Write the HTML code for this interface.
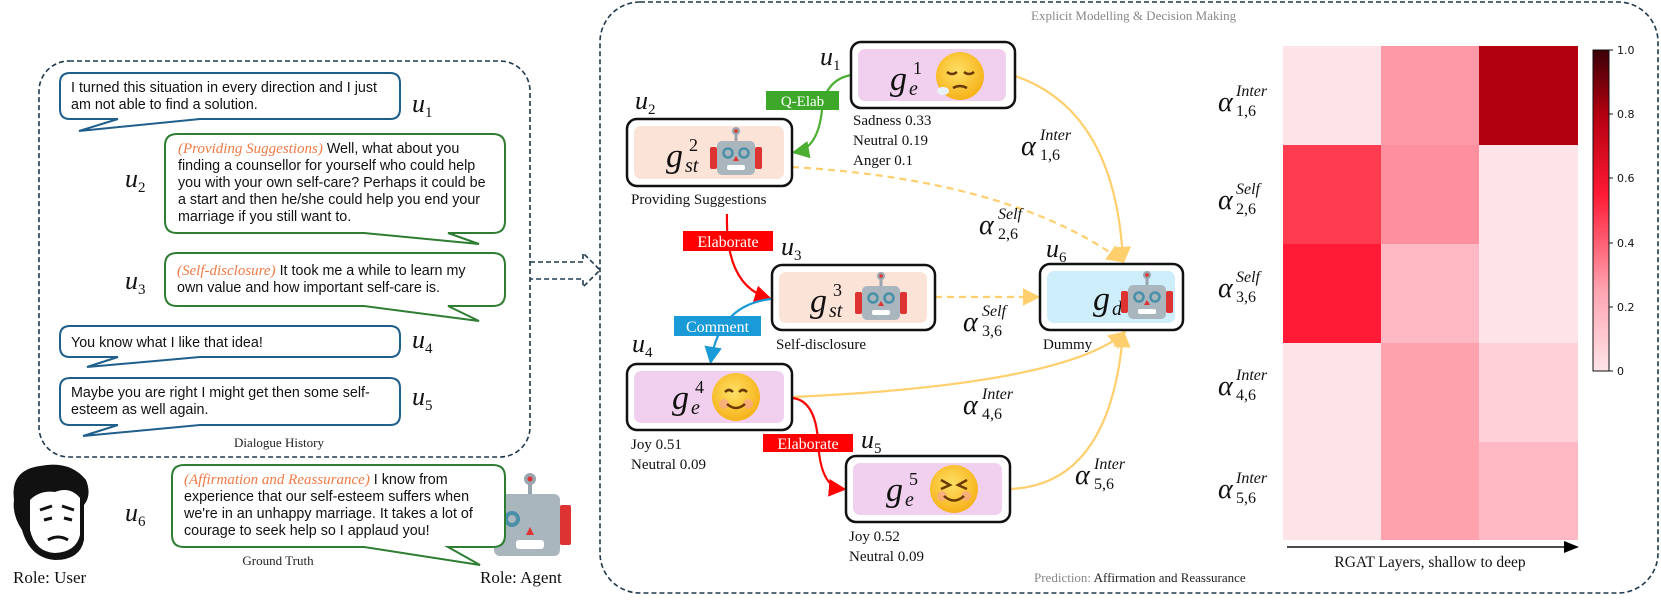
<!DOCTYPE html>
<html><head><meta charset="utf-8"><style>html,body{margin:0;padding:0;background:#fff}svg{display:block}</style></head>
<body>
<svg width="1661" height="600" viewBox="0 0 1661 600" xmlns="http://www.w3.org/2000/svg" font-family="'Liberation Serif',serif">
<defs>
<linearGradient id="cb" x1="0" y1="1" x2="0" y2="0">
<stop offset="0" stop-color="#fde4e8"/><stop offset="0.25" stop-color="#fea5b2"/><stop offset="0.55" stop-color="#ff1a35"/><stop offset="0.8" stop-color="#b3000f"/><stop offset="1" stop-color="#3b0008"/>
</linearGradient>
<radialGradient id="em" cx="0.45" cy="0.4" r="0.6"><stop offset="0" stop-color="#ffe066"/><stop offset="1" stop-color="#f6b21a"/></radialGradient>
<marker id="ay" markerWidth="8" markerHeight="8" refX="6" refY="4" orient="auto"><path d="M0,0 L8,4 L0,8 Z" fill="#ffcf6e"/></marker>
<marker id="ag" markerWidth="8" markerHeight="8" refX="6" refY="4" orient="auto"><path d="M0,0 L8,4 L0,8 Z" fill="#4caf32"/></marker>
<marker id="ar" markerWidth="8" markerHeight="8" refX="6" refY="4" orient="auto"><path d="M0,0 L8,4 L0,8 Z" fill="#f00"/></marker>
<marker id="ab" markerWidth="8" markerHeight="8" refX="6" refY="4" orient="auto"><path d="M0,0 L8,4 L0,8 Z" fill="#1a9ad6"/></marker>
<marker id="ak" markerWidth="10" markerHeight="8" refX="8" refY="4" orient="auto"><path d="M0,0 L10,4 L0,8 Z" fill="#000"/></marker>
<g id="robot">
<line x1="0" y1="-22" x2="0" y2="-14" stroke="#9aa6ad" stroke-width="3"/><circle cx="0" cy="-24" r="4" fill="#9aa6ad"/><circle cx="0" cy="-24" r="1.8" fill="#d33"/>
<rect x="-19" y="-14" width="38" height="34" rx="5" fill="#a9b6bd"/>
<rect x="-26" y="-8" width="7" height="22" rx="2" fill="#d33"/><rect x="19" y="-8" width="7" height="22" rx="2" fill="#d33"/>
<circle cx="-8" cy="-2" r="4.5" fill="none" stroke="#4a8fa8" stroke-width="2.5"/><circle cx="8" cy="-2" r="4.5" fill="none" stroke="#4a8fa8" stroke-width="2.5"/>
<path d="M-3,6 L0,1 L3,6 Z" fill="#d33"/><rect x="-9" y="10" width="18" height="5" rx="2" fill="#fff"/>
</g>
</defs>

<rect x="39" y="61" width="491" height="396" rx="30" fill="none" stroke="#1f3a4d" stroke-width="1.6" stroke-dasharray="5,3"/>

<g fill="#fff" stroke-width="2">
<path stroke="#1f5f8b" d="M70,73 H390 Q400,73 400,83 V109 Q400,119 390,119 H200 L79,131 L118,119 H70 Q60,119 60,109 V83 Q60,73 70,73 Z"/>
<path stroke="#2e7d32" d="M177,134 H493 Q505,134 505,146 V221 Q505,233 493,233 H448 L479,244 L364,233 H177 Q165,233 165,221 V146 Q165,134 177,134 Z"/>
<path stroke="#2e7d32" d="M177,253 H493 Q505,253 505,265 V294 Q505,306 493,306 H448 L479,321 L364,306 H177 Q165,306 165,294 V265 Q165,253 177,253 Z"/>
<path stroke="#1f5f8b" d="M70,326 H390 Q400,326 400,336 V347 Q400,357 390,357 H200 L87,367 L118,357 H70 Q60,357 60,347 V336 Q60,326 70,326 Z"/>
<path stroke="#1f5f8b" d="M70,378 H390 Q400,378 400,388 V415 Q400,425 390,425 H200 L83,436 L118,425 H70 Q60,425 60,415 V388 Q60,378 70,378 Z"/>
</g>

<g font-family="'Liberation Sans',sans-serif" font-size="14.3" fill="#111">
<text x="71" y="92">I turned this situation in every direction and I just</text>
<text x="71" y="109">am not able to find a solution.</text>
<text x="178" y="153"><tspan font-family="'Liberation Serif',serif" font-style="italic" fill="#f07a45" font-size="15">(Providing Suggestions)</tspan> Well, what about you</text>
<text x="178" y="170">finding a counsellor for yourself who could help</text>
<text x="178" y="187">you with your own self-care? Perhaps it could be</text>
<text x="178" y="204">a start and then he/she could help you end your</text>
<text x="178" y="221">marriage if you still want to.</text>
<text x="177" y="275"><tspan font-family="'Liberation Serif',serif" font-style="italic" fill="#f07a45" font-size="15">(Self-disclosure)</tspan> It took me a while to learn my</text>
<text x="177" y="292">own value and how important self-care is.</text>
<text x="71" y="347">You know what I like that idea!</text>
<text x="71" y="397">Maybe you are right I might get then some self-</text>
<text x="71" y="414">esteem as well again.</text>
</g>

<g font-style="italic" font-size="26" fill="#111">
<text x="412" y="112">u<tspan font-size="15" font-style="normal" dy="5">1</tspan></text>
<text x="125" y="187">u<tspan font-size="15" font-style="normal" dy="5">2</tspan></text>
<text x="125" y="289">u<tspan font-size="15" font-style="normal" dy="5">3</tspan></text>
<text x="412" y="348">u<tspan font-size="15" font-style="normal" dy="5">4</tspan></text>
<text x="412" y="405">u<tspan font-size="15" font-style="normal" dy="5">5</tspan></text>
<text x="125" y="521">u<tspan font-size="15" font-style="normal" dy="5">6</tspan></text>
</g>
<text x="279" y="447" font-size="13" text-anchor="middle" fill="#222">Dialogue History</text>

<g fill="none" stroke="#1f3a4d" stroke-width="1.6" stroke-dasharray="5,3">
<path d="M530,262 H583 V253 L600,270 L583,287 V279 H530"/>
</g>

<g>
<path d="M14,500 Q10,470 40,466 Q70,460 86,480 Q92,495 84,505 L84,540 Q80,560 55,560 Q30,558 22,530 Q12,515 14,500 Z" fill="#111"/>
<path d="M30,500 Q40,490 55,492 Q70,486 80,498 L80,535 Q76,552 55,553 Q35,552 30,530 Z" fill="#fff"/>
<path d="M40,510 L52,506 M62,506 L74,510" stroke="#111" stroke-width="3" fill="none"/>
<path d="M44,520 L52,518 M64,518 L72,520" stroke="#111" stroke-width="3"/>
<path d="M48,540 Q58,534 68,540" stroke="#111" stroke-width="3" fill="none"/>
</g>
<text x="13" y="583" font-size="17" fill="#111">Role: User</text>

<g transform="translate(530,475)">
<line x1="0" y1="4" x2="0" y2="20" stroke="#9aa6ad" stroke-width="4"/><circle cx="0" cy="4" r="6" fill="#9aa6ad"/><circle cx="0" cy="4" r="2.5" fill="#d33"/>
<rect x="-36" y="19" width="66" height="62" rx="6" fill="#a9b6bd"/>
<rect x="30" y="30" width="11" height="40" rx="2" fill="#d33"/>
<circle cx="-18" cy="44" r="6" fill="none" stroke="#4a8fa8" stroke-width="4"/>
<path d="M-4,60 L0,52 L4,60 Z" fill="#d33"/><rect x="-14" y="65" width="28" height="9" rx="3" fill="#fff"/>
</g>
<path fill="#fff" stroke="#2e7d32" stroke-width="2" d="M184,465 H493 Q505,465 505,477 V535 Q505,547 493,547 H448 L480,565 L364,547 H184 Q172,547 172,535 V477 Q172,465 184,465 Z"/>
<g font-family="'Liberation Sans',sans-serif" font-size="14.3" fill="#111">
<text x="184" y="484"><tspan font-family="'Liberation Serif',serif" font-style="italic" fill="#f07a45" font-size="15">(Affirmation and Reassurance)</tspan> I know from</text>
<text x="184" y="501">experience that our self-esteem suffers when</text>
<text x="184" y="518">we're in an unhappy marriage. It takes a lot of</text>
<text x="184" y="535">courage to seek help so I applaud you!</text>
</g>
<text x="278" y="565" font-size="13" text-anchor="middle" fill="#222">Ground Truth</text>
<text x="480" y="583" font-size="17" fill="#111">Role: Agent</text>

<rect x="600" y="2" width="1058" height="591" rx="40" fill="none" stroke="#1f3a4d" stroke-width="1.6" stroke-dasharray="5,3"/>
<text x="1031" y="20" font-size="13" fill="#888">Explicit Modelling &amp; Decision Making</text>
<text x="1034" y="582" font-size="13" fill="#888">Prediction: <tspan fill="#222">Affirmation and Reassurance</tspan></text>

<g fill="none" stroke-width="2.2">
<path d="M1015,76 Q1115,110 1123,260" stroke="#ffcf6e" marker-end="url(#ay)"/>
<path d="M792,167 Q1010,180 1121,260" stroke="#ffcf6e" stroke-dasharray="7,5" marker-end="url(#ay)"/>
<path d="M935,297 H1036" stroke="#ffcf6e" stroke-dasharray="7,5" marker-end="url(#ay)"/>
<path d="M792,397 Q1060,385 1123,334" stroke="#ffcf6e" marker-end="url(#ay)"/>
<path d="M1010,489 Q1110,485 1123,334" stroke="#ffcf6e" marker-end="url(#ay)"/>
<path d="M851,75 Q825,80 822,110 Q818,148 796,152" stroke="#4caf32" marker-end="url(#ag)"/>
<path d="M727,214 Q725,285 768,298" stroke="#f00" marker-end="url(#ar)"/>
<path d="M771,299 Q720,305 711,360" stroke="#1a9ad6" marker-end="url(#ab)"/>
<path d="M792,398 Q815,400 818,440 Q820,487 842,489" stroke="#f00" marker-end="url(#ar)"/>
</g>

<rect x="766" y="91" width="73" height="19" fill="#3ea82a"/><text x="802.5" y="106" font-size="15" fill="#fff" text-anchor="middle">Q-Elab</text>
<rect x="683" y="231" width="90" height="20" fill="#f00"/><text x="728" y="247" font-size="16" fill="#fff" text-anchor="middle">Elaborate</text>
<rect x="674" y="316" width="87" height="20" fill="#1a9ad6"/><text x="717.5" y="332" font-size="16" fill="#fff" text-anchor="middle">Comment</text>
<rect x="763" y="434" width="90" height="18" fill="#f00"/><text x="808" y="449" font-size="16" fill="#fff" text-anchor="middle">Elaborate</text>

<g stroke="#111" stroke-width="2.5" fill="#fff">
<rect x="851" y="42" width="164" height="66" rx="10"/>
<rect x="627" y="119" width="165" height="67" rx="10"/>
<rect x="772" y="265" width="163" height="65" rx="10"/>
<rect x="627" y="364" width="165" height="66" rx="10"/>
<rect x="846" y="456" width="164" height="66" rx="10"/>
<rect x="1040" y="264" width="143" height="66" rx="10"/>
</g>
<rect x="858" y="49" width="148" height="52" rx="7" fill="#f0d0ee"/>
<rect x="634" y="126" width="150" height="53" rx="7" fill="#fbe3d8"/>
<rect x="779" y="272" width="148" height="51" rx="7" fill="#fbe3d8"/>
<rect x="634" y="371" width="150" height="52" rx="7" fill="#f0d0ee"/>
<rect x="853" y="463" width="149" height="52" rx="7" fill="#f0d0ee"/>
<rect x="1047" y="271" width="128" height="52" rx="7" fill="#cdeefa"/>

<g font-style="italic" fill="#111">
<text x="890" y="90" font-size="34">g</text><text x="913" y="74" font-size="18" font-style="normal">1</text><text x="909" y="95" font-size="20">e</text>
<text x="666" y="167" font-size="34">g</text><text x="689" y="151" font-size="18" font-style="normal">2</text><text x="685" y="172" font-size="20">st</text>
<text x="810" y="312" font-size="34">g</text><text x="833" y="296" font-size="18" font-style="normal">3</text><text x="829" y="317" font-size="20">st</text>
<text x="672" y="409" font-size="34">g</text><text x="695" y="393" font-size="18" font-style="normal">4</text><text x="691" y="414" font-size="20">e</text>
<text x="886" y="501" font-size="34">g</text><text x="909" y="485" font-size="18" font-style="normal">5</text><text x="905" y="506" font-size="20">e</text>
<text x="1093" y="310" font-size="34">g</text><text x="1112" y="315" font-size="20">d</text>
</g>

<g>
<circle cx="960" cy="76" r="24" fill="url(#em)"/>
<path d="M947,72 Q952,76 957,72 M964,72 Q969,76 974,72" stroke="#6b3a00" stroke-width="2.5" fill="none"/>
<path d="M953,88 Q960,84 967,88" stroke="#6b3a00" stroke-width="2.5" fill="none"/>
<ellipse cx="943" cy="91" rx="6" ry="4" fill="#e8f2f8"/>
<circle cx="736" cy="397" r="24" fill="url(#em)"/>
<circle cx="724" cy="404" r="5" fill="#f8a0a0" opacity="0.6"/><circle cx="748" cy="404" r="5" fill="#f8a0a0" opacity="0.6"/>
<path d="M725,392 Q729,388 733,392 M739,392 Q743,388 747,392" stroke="#6b3a00" stroke-width="2.5" fill="none"/>
<path d="M727,404 Q736,412 745,404" stroke="#6b3a00" stroke-width="2.5" fill="none"/>
<circle cx="954" cy="489" r="24" fill="url(#em)"/>
<circle cx="942" cy="496" r="5" fill="#f8a0a0" opacity="0.6"/><circle cx="966" cy="496" r="5" fill="#f8a0a0" opacity="0.6"/>
<path d="M941,480 L950,485 L941,489 M967,480 L958,485 L967,489" stroke="#6b3a00" stroke-width="2.5" fill="none"/>
<path d="M944,496 Q954,505 964,496" stroke="#6b3a00" stroke-width="2.5" fill="none"/>
</g>
<use href="#robot" x="736" y="155"/>
<use href="#robot" x="881" y="300"/>
<use href="#robot" x="1147" y="299"/>

<g font-size="15" fill="#111">
<text x="853" y="125">Sadness 0.33</text><text x="853" y="145">Neutral 0.19</text><text x="853" y="165">Anger 0.1</text>
<text x="631" y="204">Providing Suggestions</text>
<text x="776" y="349">Self-disclosure</text>
<text x="1043" y="349">Dummy</text>
<text x="631" y="449">Joy 0.51</text><text x="631" y="469">Neutral 0.09</text>
<text x="849" y="541">Joy 0.52</text><text x="849" y="561">Neutral 0.09</text>
</g>
<g font-style="italic" font-size="26" fill="#111">
<text x="820" y="65">u<tspan font-size="15" font-style="normal" dy="5">1</tspan></text>
<text x="635" y="109">u<tspan font-size="15" font-style="normal" dy="5">2</tspan></text>
<text x="781" y="255">u<tspan font-size="15" font-style="normal" dy="5">3</tspan></text>
<text x="632" y="352">u<tspan font-size="15" font-style="normal" dy="5">4</tspan></text>
<text x="861" y="448">u<tspan font-size="15" font-style="normal" dy="5">5</tspan></text>
<text x="1046" y="257">u<tspan font-size="15" font-style="normal" dy="5">6</tspan></text>
</g>

<g font-style="italic" fill="#111">
<text x="1021" y="155" font-size="28">α</text><text x="1040" y="140" font-size="16">Inter</text><text x="1040" y="160" font-size="16" font-style="normal">1,6</text>
<text x="979" y="234" font-size="28">α</text><text x="998" y="219" font-size="16">Self</text><text x="998" y="239" font-size="16" font-style="normal">2,6</text>
<text x="963" y="331" font-size="28">α</text><text x="982" y="316" font-size="16">Self</text><text x="982" y="336" font-size="16" font-style="normal">3,6</text>
<text x="963" y="414" font-size="28">α</text><text x="982" y="399" font-size="16">Inter</text><text x="982" y="419" font-size="16" font-style="normal">4,6</text>
<text x="1075" y="484" font-size="28">α</text><text x="1094" y="469" font-size="16">Inter</text><text x="1094" y="489" font-size="16" font-style="normal">5,6</text>
</g>

<g>
<rect x="1283" y="46" width="98" height="99" fill="#fde4e8"/><rect x="1381" y="46" width="98" height="99" fill="#fe9aa8"/><rect x="1479" y="46" width="99" height="99" fill="#b3000f"/>
<rect x="1283" y="145" width="98" height="99" fill="#ff3b50"/><rect x="1381" y="145" width="98" height="99" fill="#fe8f9e"/><rect x="1479" y="145" width="99" height="99" fill="#fde4e8"/>
<rect x="1283" y="244" width="98" height="99" fill="#ff1a35"/><rect x="1381" y="244" width="98" height="99" fill="#feb9c5"/><rect x="1479" y="244" width="99" height="99" fill="#fde4e8"/>
<rect x="1283" y="343" width="98" height="99" fill="#fde4e8"/><rect x="1381" y="343" width="98" height="99" fill="#fea2ae"/><rect x="1479" y="343" width="99" height="99" fill="#fed0d8"/>
<rect x="1283" y="442" width="98" height="98" fill="#fde4e8"/><rect x="1381" y="442" width="98" height="98" fill="#fea2ae"/><rect x="1479" y="442" width="99" height="98" fill="#feb9c5"/>
</g>
<g font-style="italic" fill="#111">
<text x="1218" y="111" font-size="28">α</text><text x="1236" y="96" font-size="16">Inter</text><text x="1236" y="116" font-size="16" font-style="normal">1,6</text>
<text x="1218" y="209" font-size="28">α</text><text x="1236" y="194" font-size="16">Self</text><text x="1236" y="214" font-size="16" font-style="normal">2,6</text>
<text x="1218" y="297" font-size="28">α</text><text x="1236" y="282" font-size="16">Self</text><text x="1236" y="302" font-size="16" font-style="normal">3,6</text>
<text x="1218" y="395" font-size="28">α</text><text x="1236" y="380" font-size="16">Inter</text><text x="1236" y="400" font-size="16" font-style="normal">4,6</text>
<text x="1218" y="498" font-size="28">α</text><text x="1236" y="483" font-size="16">Inter</text><text x="1236" y="503" font-size="16" font-style="normal">5,6</text>
</g>
<rect x="1593" y="50" width="16" height="321" fill="url(#cb)" stroke="#111" stroke-width="1"/>
<g stroke="#111" stroke-width="1">
<line x1="1609" y1="50" x2="1613" y2="50"/><line x1="1609" y1="114" x2="1613" y2="114"/><line x1="1609" y1="178" x2="1613" y2="178"/><line x1="1609" y1="243" x2="1613" y2="243"/><line x1="1609" y1="307" x2="1613" y2="307"/><line x1="1609" y1="371" x2="1613" y2="371"/>
</g>
<g font-family="'DejaVu Sans',sans-serif" font-size="11" fill="#111">
<text x="1617" y="54">1.0</text><text x="1617" y="118">0.8</text><text x="1617" y="182">0.6</text><text x="1617" y="247">0.4</text><text x="1617" y="311">0.2</text><text x="1617" y="375">0</text>
</g>
<line x1="1287" y1="547" x2="1576" y2="547" stroke="#111" stroke-width="1.5" marker-end="url(#ak)"/>
<text x="1430" y="567" font-size="15.5" text-anchor="middle" fill="#111">RGAT Layers, shallow to deep</text>
</svg>
</body></html>
